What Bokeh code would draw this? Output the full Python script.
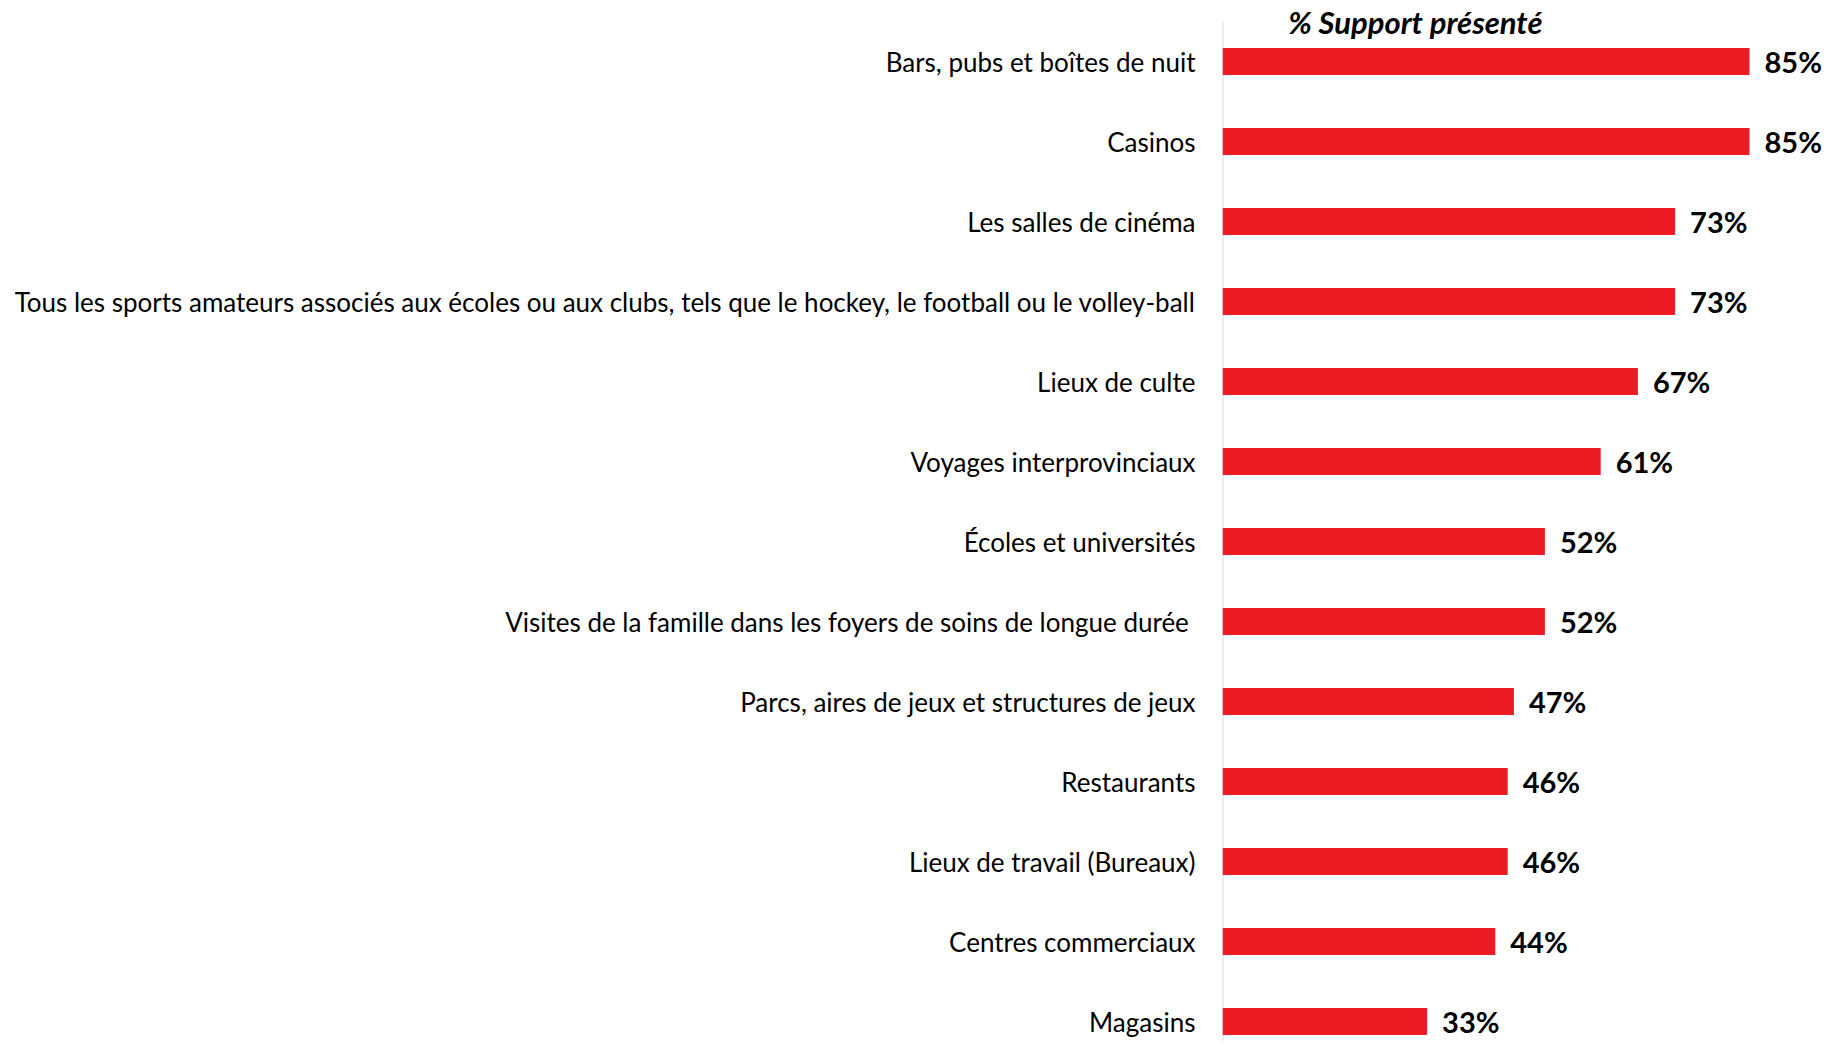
from bokeh.plotting import figure
from bokeh.models import Range1d, FixedTicker, Label, ColumnDataSource
from bokeh.core.properties import value
from bokeh.embed import file_html
from bokeh.resources import INLINE

categories = [
    "Bars, pubs et boîtes de nuit",
    "Casinos",
    "Les salles de cinéma",
    "Tous les sports amateurs associés aux écoles ou aux clubs, tels que le hockey, le football ou le volley-ball",
    "Lieux de culte",
    "Voyages interprovinciaux",
    "Écoles et universités",
    "Visites de la famille dans les foyers de soins de longue durée ",
    "Parcs, aires de jeux et structures de jeux",
    "Restaurants",
    "Lieux de travail (Bureaux)",
    "Centres commerciaux",
    "Magasins",
]
support = [85, 85, 73, 73, 67, 61, 52, 52, 47, 46, 46, 44, 33]
title_text = "% Support présenté"

idx = list(range(len(categories)))
src = ColumnDataSource(dict(
    y=idx,
    v=support,
    lbl=[f"{s}%" for s in support],
))

W, H = 1825, 1041
left = 1222
y_top, y_bot = -0.7625, 12.25
p = figure(width=W, height=H, output_backend="svg", toolbar_location=None,
           x_axis_location=None, y_axis_location="left",
           x_range=Range1d(0, (W - left) / 6.2),
           y_range=Range1d(y_bot, y_top),
           min_border_left=left, min_border_right=0,
           min_border_top=0, min_border_bottom=0)
p.outline_line_color = None
p.grid.visible = False
p.background_fill_color = "white"
p.border_fill_color = "white"

# vertical axis line starting at the title's level
p.segment(x0=[0], y0=[-0.5], x1=[0], y1=[y_bot], line_color="#d9d9d9",
          line_width=2)

p.hbar(y="y", left=0, right="v", height=0.34, source=src,
       fill_color="#ED1C24", line_color=None)
p.text(x="v", y="y", text="lbl", source=src, x_offset=15,
       text_baseline="middle", text_align="left",
       text_font=value("Lato"), text_font_style="bold",
       text_font_size="29px", text_color="black")

ax = p.yaxis[0]
ax.ticker = FixedTicker(ticks=idx)
ax.major_label_overrides = {i: c for i, c in zip(idx, categories)}
ax.major_tick_line_color = None
ax.minor_tick_line_color = None
ax.major_tick_out = 0
ax.major_tick_in = 0
ax.major_label_standoff = 27
ax.axis_line_color = None
ax.major_label_text_font = "Lato"
ax.major_label_text_font_size = "26px"
ax.major_label_text_color = "black"

p.add_layout(Label(x=31.1, y=-0.5, text=title_text, text_align="center",
                   text_baseline="middle", text_font="Lato",
                   text_font_style="bold italic", text_font_size="31px",
                   text_color="black"))

open("out.html", "w").write(file_html(p, INLINE))
